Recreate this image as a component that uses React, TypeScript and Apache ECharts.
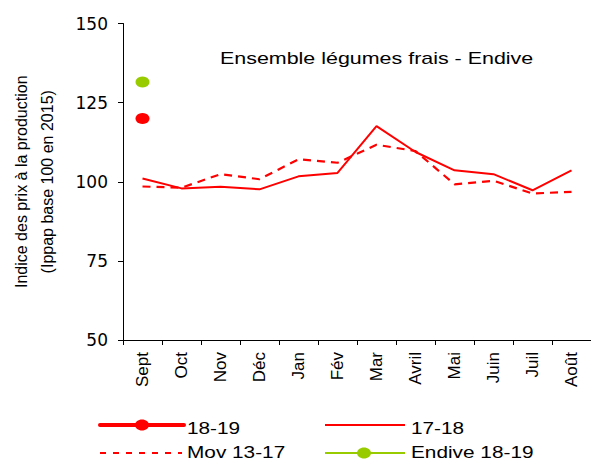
import React, { useEffect, useRef } from "react";
import * as echarts from "echarts";

const categories = ["Sept", "Oct", "Nov", "Déc", "Jan", "Fév", "Mar", "Avril", "Mai", "Juin", "Juil", "Août"];
const s1819 = [120, null, null, null, null, null, null, null, null, null, null, null];
const s1718 = [101.0, 97.9, 98.4, 97.6, 101.7, 102.8, 117.6, 109.4, 103.6, 102.4, 97.3, 103.6];
const mov1317 = [98.5, 98.1, 102.4, 100.8, 107.1, 106.0, 111.7, 109.7, 99.2, 100.3, 96.3, 96.8];
const endive1819 = [131.5, null, null, null, null, null, null, null, null, null, null, null];
const yMin = 50;
const yMax = 150;
const yInterval = 25;
const titleText = "Ensemble légumes frais - Endive";
const yNameLines = ["Indice des prix à la production", "(Ippap base 100 en 2015)"];
const legendNames = ["18-19", "17-18", "Mov 13-17", "Endive 18-19"];

const RED = "#FF0000";
const GREEN = "#99CC00";
const FONT = "'Liberation Sans', Arial, sans-serif";

export default function App() {
  const ref = useRef<HTMLDivElement>(null);
  useEffect(() => {
    if (!ref.current) return;
    const chart = echarts.init(ref.current, null, { renderer: "svg" });
    const legendText = (x: number, y: number, t: string) => ({
      type: "text",
      x,
      y,
      scaleX: 1.3,
      style: { text: t, fill: "#000", font: `16px ${FONT}`, textAlign: "left", textVerticalAlign: "middle" },
    });
    chart.setOption({
      animation: false,
      backgroundColor: "#fff",
      grid: { left: 122, top: 23.5, width: 472, height: 316.5, containLabel: false },
      xAxis: {
        type: "category",
        data: categories,
        boundaryGap: true,
        axisLine: { lineStyle: { color: "#000", width: 1 } },
        axisTick: { show: true, length: 5, lineStyle: { color: "#000" }, inside: false },
        axisLabel: { rotate: 90, margin: 12, color: "#000", fontFamily: FONT, fontSize: 17, interval: 0 },
        splitLine: { show: false },
      },
      yAxis: {
        type: "value",
        min: yMin,
        max: yMax,
        interval: yInterval,
        name: yNameLines.join("\n"),
        nameLocation: "middle",
        nameRotate: 90,
        nameGap: 63,
        nameTextStyle: { color: "#000", fontFamily: FONT, fontSize: 16, lineHeight: 26 },
        axisLine: { show: true, lineStyle: { color: "#000", width: 1 } },
        axisTick: { show: true, length: 5, lineStyle: { color: "#000" } },
        axisLabel: { margin: 15, color: "#000", fontFamily: "'DejaVu Sans', sans-serif", fontSize: 17 },
        splitLine: { show: false },
      },
      series: [
        {
          name: legendNames[0],
          type: "line",
          data: s1819,
          symbol: "circle",
          symbolSize: [14, 11],
          itemStyle: { color: RED },
          lineStyle: { color: RED, width: 4 },
        },
        {
          name: legendNames[1],
          type: "line",
          data: s1718,
          symbol: "none",
          lineStyle: { color: RED, width: 2 },
        },
        {
          name: legendNames[2],
          type: "line",
          data: mov1317,
          symbol: "none",
          lineStyle: { color: RED, width: 2.2, type: [8, 6] },
        },
        {
          name: legendNames[3],
          type: "line",
          data: endive1819,
          symbol: "circle",
          symbolSize: [14, 11],
          itemStyle: { color: GREEN },
          lineStyle: { color: GREEN, width: 2 },
        },
      ],
      graphic: [
        {
          type: "text",
          x: 220,
          y: 58.5,
          scaleX: 1.34,
          style: { text: titleText, fill: "#000", font: `16px ${FONT}`, textAlign: "left", textVerticalAlign: "middle" },
        },
        { type: "line", shape: { x1: 100, y1: 425, x2: 184, y2: 425 }, style: { stroke: RED, lineWidth: 4, lineCap: "round" } },
        { type: "ellipse", shape: { cx: 142, cy: 425, rx: 7, ry: 5.5 }, style: { fill: RED } },
        legendText(187, 428, legendNames[0]),
        { type: "line", shape: { x1: 325, y1: 425, x2: 405, y2: 425 }, style: { stroke: RED, lineWidth: 2 } },
        legendText(411, 428, legendNames[1]),
        { type: "line", shape: { x1: 100, y1: 453, x2: 182, y2: 453 }, style: { stroke: RED, lineWidth: 2, lineDash: [6, 7] } },
        legendText(187, 452, legendNames[2]),
        { type: "line", shape: { x1: 325, y1: 453, x2: 405, y2: 453 }, style: { stroke: GREEN, lineWidth: 2 } },
        { type: "ellipse", shape: { cx: 364, cy: 453, rx: 7, ry: 5.5 }, style: { fill: GREEN } },
        legendText(411, 452, legendNames[3]),
      ],
    });
    return () => chart.dispose();
  }, []);
  return <div ref={ref} style={{ position: "absolute", left: 0, top: 0, width: 591, height: 461 }} />;
}
